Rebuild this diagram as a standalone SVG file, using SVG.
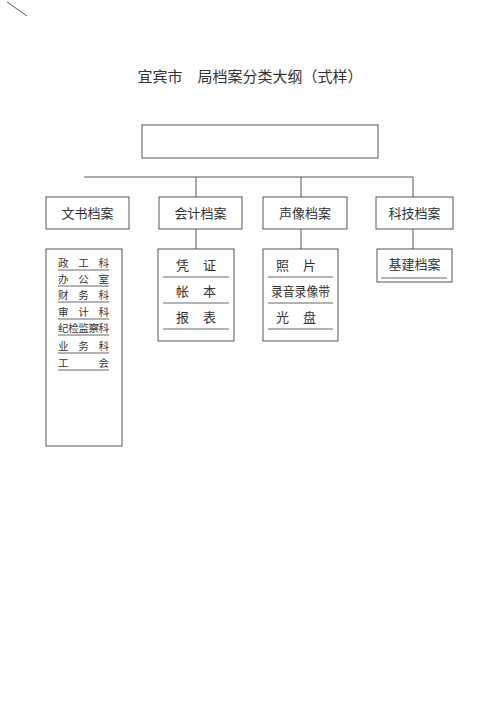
<svg xmlns="http://www.w3.org/2000/svg" width="500" height="708" viewBox="0 0 500 708">
<style>
.b{fill:#fff;stroke:#555;stroke-width:1}
.l{stroke:#555;stroke-width:1;fill:none}
.u{stroke:#666;stroke-width:1}
text{font-family:"Liberation Serif","Noto Sans CJK SC",serif;fill:#333}
.h{font-size:13px;text-anchor:middle}
.s{font-size:10.5px}
.m{font-size:13px}
</style>
<rect width="500" height="708" fill="#fff"/>
<line x1="7" y1="2" x2="27" y2="16" class="l"/>
<text x="250" y="82" style="font-size:15px;text-anchor:middle">宜宾市　局档案分类大纲（式样）</text>
<g id="top"><rect x="142" y="125" width="236" height="33" class="b"/></g>
<g id="connectors">
<line x1="84" y1="177" x2="413" y2="177" class="l"/>
<line x1="196" y1="177" x2="196" y2="197" class="l"/>
<line x1="301" y1="177" x2="301" y2="197" class="l"/>
<line x1="413" y1="177" x2="413" y2="197" class="l"/>
<line x1="196" y1="229" x2="196" y2="249" class="l"/>
<line x1="301" y1="229" x2="301" y2="249" class="l"/>
<line x1="413" y1="229" x2="413" y2="249" class="l"/>
</g>
<g id="n1"><rect x="46" y="197" width="83" height="32" class="b"/><text x="87.5" y="218" class="h">文书档案</text></g>
<g id="n2"><rect x="159" y="197" width="83" height="32" class="b"/><text x="200.5" y="218" class="h">会计档案</text></g>
<g id="n3"><rect x="263" y="197" width="84" height="32" class="b"/><text x="305" y="218" class="h">声像档案</text></g>
<g id="n4"><rect x="376" y="197" width="77" height="32" class="b"/><text x="414.5" y="218" class="h">科技档案</text></g>
<g id="s1">
<rect x="46" y="249" width="76" height="197" class="b"/>
<g class="s">
<text x="58" y="267" textLength="51" lengthAdjust="spacing">政工科</text>
<text x="58" y="283" textLength="51" lengthAdjust="spacing">办公室</text>
<text x="58" y="299" textLength="51" lengthAdjust="spacing">财务科</text>
<text x="58" y="316" textLength="51" lengthAdjust="spacing">审计科</text>
<text x="58" y="332" textLength="51" lengthAdjust="spacing">纪检监察科</text>
<text x="58" y="350" textLength="51" lengthAdjust="spacing">业务科</text>
<text x="58" y="367" textLength="51" lengthAdjust="spacing">工会</text>
</g>
<line x1="58" y1="270" x2="109" y2="270" class="u"/>
<line x1="58" y1="286" x2="109" y2="286" class="u"/>
<line x1="58" y1="302" x2="109" y2="302" class="u"/>
<line x1="58" y1="319" x2="109" y2="319" class="u"/>
<line x1="58" y1="335" x2="109" y2="335" class="u"/>
<line x1="58" y1="353" x2="109" y2="353" class="u"/>
<line x1="58" y1="370" x2="109" y2="370" class="u"/>
</g>
<g id="s2">
<rect x="158" y="249" width="76" height="92" class="b"/>
<text x="176" y="270" class="m" textLength="40" lengthAdjust="spacing">凭证</text>
<text x="176" y="296" class="m" textLength="40" lengthAdjust="spacing">帐本</text>
<text x="176" y="322" class="m" textLength="40" lengthAdjust="spacing">报表</text>
<line x1="163" y1="277" x2="229" y2="277" class="u"/>
<line x1="163" y1="303" x2="229" y2="303" class="u"/>
<line x1="163" y1="329" x2="229" y2="329" class="u"/>
</g>
<g id="s3">
<rect x="263" y="249" width="75" height="92" class="b"/>
<text x="276" y="270" class="m" textLength="40" lengthAdjust="spacing">照片</text>
<text x="271" y="296" class="m" textLength="59" lengthAdjust="spacingAndGlyphs">录音录像带</text>
<text x="276" y="322" class="m" textLength="40" lengthAdjust="spacing">光盘</text>
<line x1="268" y1="277" x2="333" y2="277" class="u"/>
<line x1="268" y1="303" x2="333" y2="303" class="u"/>
<line x1="268" y1="329" x2="333" y2="329" class="u"/>
</g>
<g id="s4">
<rect x="377" y="249" width="75" height="33" class="b"/>
<text x="414.5" y="269" class="h">基建档案</text>
<line x1="381" y1="278" x2="447" y2="278" class="u"/>
</g>
</svg>
